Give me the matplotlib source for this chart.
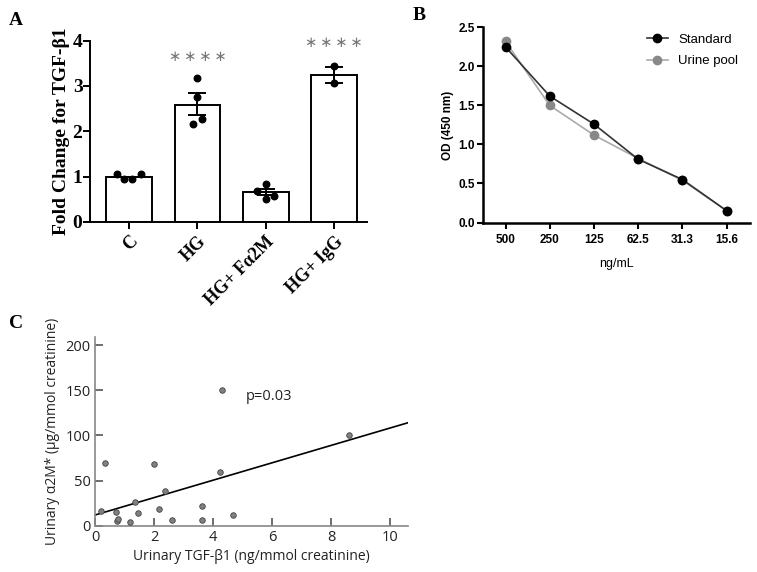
import numpy as np
import matplotlib
matplotlib.use('Agg')
import matplotlib.pyplot as plt

# ---- panel A data ----
groups = ['C', 'HG', 'HG+ F\u03b12M', 'HG+ IgG']
bar_means = [1.0, 2.59, 0.65, 3.24]
err_low = [1.0, 2.35, 0.59, 3.06]
err_high = [1.0, 2.84, 0.72, 3.42]
pts_y = [[1.06, 0.94, 0.94, 1.06],
         [3.17, 2.76, 2.28, 2.15],
         [0.83, 0.69, 0.57, 0.51],
         [3.43, 3.06]]
pts_dx = [[-0.18, -0.07, 0.05, 0.17],
          [0.0, 0.0, 0.06, -0.06],
          [0.0, -0.13, 0.12, 0.0],
          [0.0, 0.0]]
stars = ['', '****', '', '****']
star_y = [0, 3.66, 0, 3.96]

# ---- panel B data ----
conc = ['500', '250', '125', '62.5', '31.3', '15.6']
od_standard = [2.25, 1.62, 1.26, 0.81, 0.55, 0.15]
od_urine = [2.32, 1.50, 1.12, 0.82, 0.54, 0.15]

# ---- panel C data ----
tgf = [0.19, 0.34, 0.72, 0.74, 0.78, 1.17, 1.37, 1.45, 2.0, 2.17, 2.38,
       2.6, 3.62, 3.64, 4.29, 4.24, 4.67, 8.6]
a2m = [16, 69, 15, 5.5, 7, 4, 26, 14, 68, 19, 38,
       6, 22, 6, 150, 59, 12, 100]
fit_intercept = 11.8
fit_slope = 9.64

fig = plt.figure(figsize=(7.57, 5.72), dpi=100)

# ================= A =================
axA = fig.add_axes([0.119, 0.612, 0.366, 0.317])
serif = 'Liberation Serif'
x = np.arange(len(groups))
axA.bar(x, bar_means, width=0.67, color='white', edgecolor='black', linewidth=1.4, zorder=1)
for i in range(len(groups)):
    if err_high[i] > err_low[i]:
        axA.errorbar(x[i], bar_means[i],
                     yerr=[[bar_means[i] - err_low[i]], [err_high[i] - bar_means[i]]],
                     fmt='none', ecolor='black', elinewidth=1.4, capsize=6.5, capthick=1.4, zorder=3)
    axA.scatter(x[i] + np.array(pts_dx[i]), pts_y[i], s=22, color='black', zorder=4)
    if stars[i]:
        # stars[i] holds the significance mark; drawn with the math asterisk glyph
        axA.text(x[i], star_y[i], '\u2009'.join(['\u2217'] * len(stars[i])), ha='center', va='center',
                 fontsize=10.5, color='#777777', family='DejaVu Sans')
axA.set_xlim(-0.57, 3.48)
axA.set_ylim(0, 4)
axA.set_yticks([0, 1, 2, 3, 4])
axA.set_xticks(x)
axA.set_xticklabels(groups, rotation=45, ha='right', rotation_mode='anchor',
                    family=serif, fontweight='bold', fontsize=13)
for lab in axA.get_yticklabels():
    lab.set_family(serif)
    lab.set_fontweight('bold')
    lab.set_fontsize(14)
axA.set_ylabel('Fold Change for TGF-\u03b21', family=serif, fontweight='bold', fontsize=14, labelpad=2)
axA.spines['top'].set_visible(False)
axA.spines['right'].set_visible(False)
for s in ['left', 'bottom']:
    axA.spines[s].set_linewidth(1.4)
axA.tick_params(width=1.4, length=5)
axA.tick_params(axis='y', pad=0.5)
axA.tick_params(axis='x', pad=3)
fig.text(0.012, 0.965, 'A', family=serif, fontweight='bold', fontsize=14, va='center')

# ================= B =================
axB = fig.add_axes([0.638, 0.611, 0.353, 0.341])
xb = np.arange(len(conc))
axB.plot(xb, od_urine, color='#aaaaaa', lw=1.2, marker='o', markersize=6,
         markerfacecolor='#888888', markeredgecolor='#888888', label='Urine pool', zorder=2)
axB.plot(xb, od_standard, color='#333333', lw=1.2, marker='o', markersize=6,
         markerfacecolor='black', markeredgecolor='black', label='Standard', zorder=3)
axB.set_xlim(-0.51, 5.53)
axB.set_ylim(0, 2.5)
axB.set_yticks([0, 0.5, 1.0, 1.5, 2.0, 2.5])
axB.set_yticklabels(['0.0', '0.5', '1.0', '1.5', '2.0', '2.5'])
axB.set_xticks(xb)
axB.set_xticklabels(conc)
for lab in axB.get_xticklabels() + axB.get_yticklabels():
    lab.set_family('Liberation Sans')
    lab.set_fontweight('bold')
    lab.set_fontsize(8.5)
axB.set_ylabel('OD (450 nm)', family='Liberation Sans', fontweight='bold', fontsize=8.5, labelpad=3)
axB.set_xlabel('ng/mL', family='Liberation Sans', fontsize=9, labelpad=9)
axB.spines['top'].set_visible(False)
axB.spines['right'].set_visible(False)
for s in ['left', 'bottom']:
    axB.spines[s].set_linewidth(1.8)
axB.tick_params(width=1.5, length=4, pad=2)
axB.tick_params(axis='x', pad=4)
handles, labels = axB.get_legend_handles_labels()
axB.legend(handles[::-1], labels[::-1], loc='upper right', frameon=False,
           prop={'family': 'Liberation Sans', 'size': 9.5}, handlelength=1.6,
           bbox_to_anchor=(1.0, 1.03), labelspacing=0.7)
fig.text(0.545, 0.973, 'B', family=serif, fontweight='bold', fontsize=14, va='center')

# ================= C =================
axC = fig.add_axes([0.1255, 0.081, 0.4135, 0.330])
axC.scatter(tgf, a2m, s=16, color='#808080', edgecolor='#444444', linewidth=0.6, zorder=3)
xf = np.array([0, 10.6])
axC.plot(xf, fit_intercept + fit_slope * xf, color='black', lw=1.2, zorder=2)
axC.set_xlim(0, 10.6)
axC.set_ylim(0, 209)
axC.set_xticks([0, 2, 4, 6, 8, 10])
axC.set_yticks([0, 50, 100, 150, 200])
cfont = 'Open Sans'
for lab in axC.get_xticklabels() + axC.get_yticklabels():
    lab.set_family(cfont)
    lab.set_fontsize(10.5)
    lab.set_color('#222222')
axC.spines['top'].set_visible(False)
axC.spines['right'].set_visible(False)
for s in ['left', 'bottom']:
    axC.spines[s].set_color('#888888')
    axC.spines[s].set_linewidth(1.2)
axC.tick_params(direction='in', length=6, width=1.2, color='#555555', pad=3)
axC.set_xlabel('Urinary TGF-\u03b21 (ng/mmol creatinine)', family=cfont, fontsize=10,
               color='#222222', labelpad=3)
axC.set_ylabel('Urinary \u03b12M* (\u03bcg/mmol creatinine)', family=cfont, fontsize=10,
               color='#222222', labelpad=4)
axC.text(5.12, 143, 'p=0.03', family=cfont, fontsize=10.5, color='#222222', va='center')
fig.text(0.012, 0.435, 'C', family=serif, fontweight='bold', fontsize=14, va='center')

fig.savefig('out.png', dpi=100)
